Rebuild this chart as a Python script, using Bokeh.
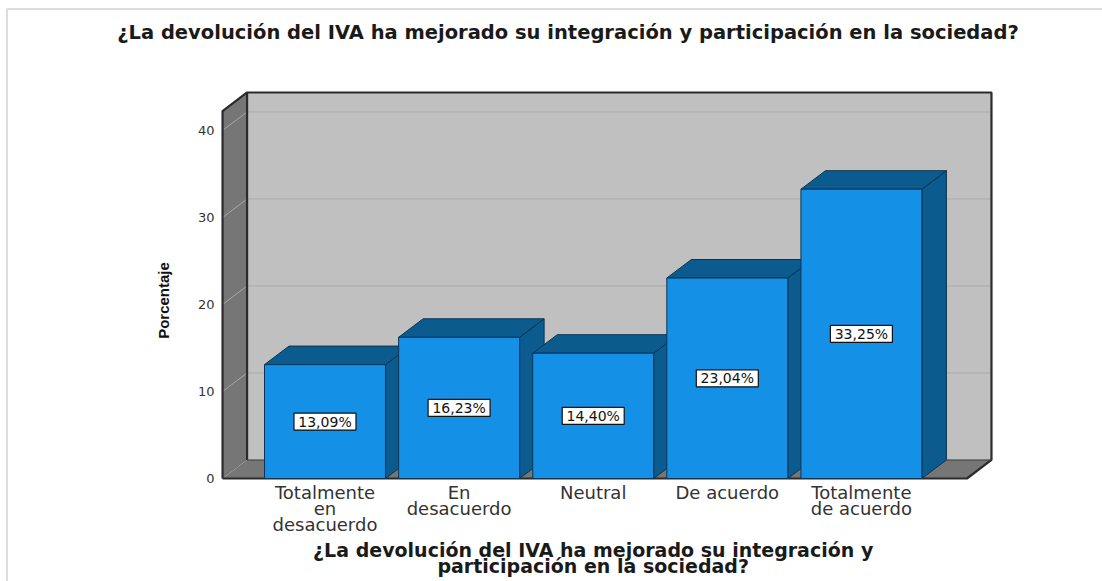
from bokeh.plotting import figure
from bokeh.models import Range1d, FixedTicker
from bokeh.embed import file_html
from bokeh.resources import INLINE
from bokeh.core.properties import value

# ---- data ----
categories = ["Totalmente\nen\ndesacuerdo", "En\ndesacuerdo", "Neutral",
              "De acuerdo", "Totalmente\nde acuerdo"]
percentages = [13.09, 16.23, 14.40, 23.04, 33.25]
value_labels = ["13,09%", "16,23%", "14,40%", "23,04%", "33,25%"]
y_ticks = [0, 10, 20, 30, 40]
title_text = "¿La devolución del IVA ha mejorado su integración y participación en la sociedad?"
x_title = "¿La devolución del IVA ha mejorado su integración y\nparticipación en la sociedad?"
y_title = "Porcentaje"

# ---- geometry (data units) ----
BW = 0.902            # bar width (category units)
DX, DY = 0.183, 2.13  # 3D depth offset
XL, XR = -0.764, 4.97  # left wall front x, back wall right x
TOP = 42.24           # front height of the walls

FRONT = "#1490e7"
SHADE = "#0b5b8f"
EDGE = "#0d3552"
WALL_BACK = "#c0c0c0"
WALL_SIDE = "#767676"
DARK = "#2b2b2b"

p = figure(width=1102, height=581, output_backend="svg", toolbar_location=None,
           x_range=Range1d(-2.4198, 5.7979), y_range=Range1d(-11.839, 54.943),
           min_border=0, background_fill_color="white",
           border_fill_color="white", outline_line_color=None)
p.grid.visible = False

# outer light frame
p.line([5.8, -2.371, -2.371], [53.97, 53.97, -11.9], line_color="#dddddd", line_width=2)

# walls and floor
p.patch([XL, XL, XL + DX, XL + DX], [0, TOP, TOP + DY, DY],
        fill_color=WALL_SIDE, line_color=None)
p.quad(left=XL + DX, right=XR, bottom=DY, top=TOP + DY,
       fill_color=WALL_BACK, line_color=None)
p.patch([XL, XR - DX, XR, XL + DX], [0, 0, DY, DY],
        fill_color=WALL_SIDE, line_color=None)

# gridlines
grid_vals = [t for t in y_ticks if t > 0]
p.segment(x0=[XL + DX] * len(grid_vals), y0=[v + DY for v in grid_vals],
          x1=[XR] * len(grid_vals), y1=[v + DY for v in grid_vals],
          line_color="#aaaaaa", line_width=1)
p.segment(x0=[XL] * len(grid_vals), y0=grid_vals,
          x1=[XL + DX] * len(grid_vals), y1=[v + DY for v in grid_vals],
          line_color="#a6a6a6", line_width=1)

# wall edges
p.multi_line(
    xs=[[XL, XL, XL + DX, XR, XR, XR - DX, XL],
        [XL + DX, XL + DX]],
    ys=[[0, TOP, TOP + DY, TOP + DY, DY, 0, 0],
        [DY, TOP + DY]],
    line_color=DARK, line_width=2.2)
p.line([XL + DX, XR], [DY, DY], line_color="#3a3a3a", line_width=1)

# bars (side, top, front for each bar, drawn left to right)
pxs, pys, pcol = [], [], []
for i, v in enumerate(percentages):
    l, r = i - BW / 2, i + BW / 2
    pxs.append([r, r, r + DX, r + DX]); pys.append([0, v, v + DY, DY]); pcol.append(SHADE)
    pxs.append([l, r, r + DX, l + DX]); pys.append([v, v, v + DY, v + DY]); pcol.append(SHADE)
    pxs.append([l, r, r, l]); pys.append([0, 0, v, v]); pcol.append(FRONT)
p.patches(pxs, pys, fill_color=pcol, line_color=EDGE, line_width=1)

# value labels
xs = list(range(len(percentages)))
mids = [v / 2 for v in percentages]
p.rect(x=xs, y=mids, width=62, height=17, width_units="screen", height_units="screen",
       fill_color="white", line_color="#111111", line_width=1.2)
p.text(x=xs, y=mids, text=value_labels, text_align="center", text_baseline="middle",
       text_font=value("DejaVu Sans"), text_font_size="14px", text_color="#111111")

# axes (fixed at the front edges of the 3D box)
p.yaxis.fixed_location = XL
p.yaxis.ticker = FixedTicker(ticks=y_ticks)
p.yaxis.axis_line_color = None
p.yaxis.major_tick_line_color = None
p.yaxis.minor_tick_line_color = None
p.yaxis.major_tick_out = 0
p.yaxis.major_tick_in = 0
p.yaxis.major_label_standoff = 8
p.yaxis.major_label_text_font = "DejaVu Sans"
p.yaxis.major_label_text_font_size = "13px"
p.yaxis.major_label_text_color = "#333333"

p.xaxis.fixed_location = 0
p.xaxis.ticker = FixedTicker(ticks=xs)
p.xaxis.major_label_overrides = {i: c for i, c in enumerate(categories)}
p.xaxis.axis_line_color = None
p.xaxis.major_tick_line_color = None
p.xaxis.minor_tick_line_color = None
p.xaxis.major_tick_out = 0
p.xaxis.major_tick_in = 0
p.xaxis.major_label_standoff = 3
p.xaxis.major_label_text_font = "DejaVu Sans"
p.xaxis.major_label_text_font_size = "18px"
p.xaxis.major_label_text_color = "#333333"
p.xaxis.major_label_text_line_height = 0.78

# titles
p.text(x=[1.812], y=[51.26], text=[title_text], text_align="center",
       text_baseline="middle", text_font=value("DejaVu Sans"),
       text_font_style="bold", text_font_size="19.5px", text_color="#1a1a1a")
p.text(x=[2.0], y=[-9.14], text=[x_title], text_align="center",
       text_baseline="middle", text_font=value("DejaVu Sans"),
       text_font_style="bold", text_font_size="19px", text_color="#1a1a1a",
       text_line_height=0.7)
p.text(x=[-1.204], y=[20.46], text=[y_title], angle=1.5708, text_align="center",
       text_baseline="middle", text_font=value("Liberation Sans"),
       text_font_style="bold", text_font_size="15px", text_color="#111111")

open("out.html", "w").write(file_html(p, INLINE))
